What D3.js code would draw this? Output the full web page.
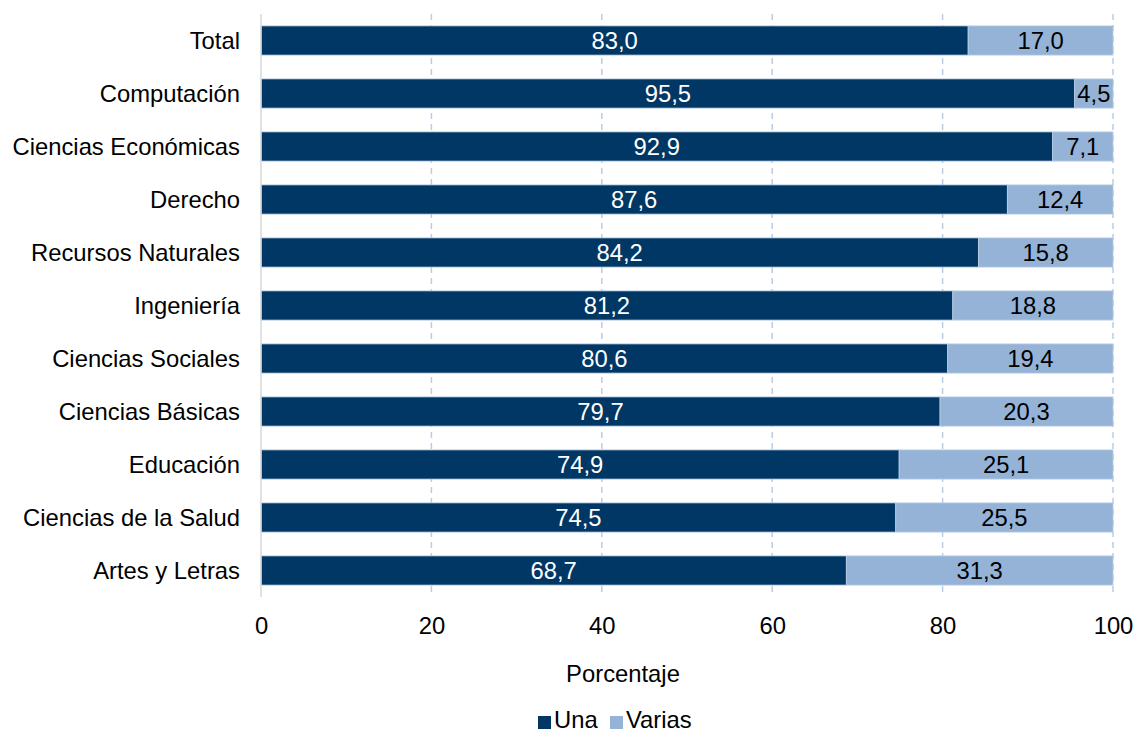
<!DOCTYPE html>
<html><head><meta charset="utf-8">
<script src="https://cdn.jsdelivr.net/npm/d3@7"></script>
<style>body{margin:0;background:#fff}svg{font-family:"Liberation Sans",Arial,sans-serif}</style>
</head><body><svg id="c" width="1134" height="734"></svg>
<script>
const categories = ["Total","Computación","Ciencias Económicas","Derecho","Recursos Naturales","Ingeniería","Ciencias Sociales","Ciencias Básicas","Educación","Ciencias de la Salud","Artes y Letras"];
const una = [83.0,95.5,92.9,87.6,84.2,81.2,80.6,79.7,74.9,74.5,68.7];
const varias = [17.0,4.5,7.1,12.4,15.8,18.8,19.4,20.3,25.1,25.5,31.3];
const ticks = [0,20,40,60,80,100];
const seriesNames = ["Una","Varias"];
const colors = ["#003764","#95B3D7"];

const FS = 23.8;
const FONT = "Liberation Sans, Arial, sans-serif";
const svg = d3.select("#c");
const m = {l:261, r:1113, t:14, b:597};
const x = d3.scaleLinear().domain([0,100]).range([m.l,m.r]);
const y = d3.scaleBand().domain(categories).range([m.t,m.b]).paddingInner(0.45).paddingOuter(0.225);
const fmt = v => v.toFixed(1).replace(".",",");

// gridlines
svg.append("g").selectAll("line").data(ticks.slice(1)).join("line")
  .attr("x1",d=>x(d)).attr("x2",d=>x(d)).attr("y1",m.t).attr("y2",m.b)
  .attr("stroke","#B9CDE5").attr("stroke-width",1.5).attr("stroke-dasharray","6,5");

const data = categories.map((c,i)=>({c, v:[una[i],varias[i]]}));
const g = svg.append("g");
data.forEach(d=>{
  let x0=0;
  d.v.forEach((v,j)=>{
    g.append("rect").attr("x",x(x0)).attr("y",y(d.c)).attr("width",x(x0+v)-x(x0)).attr("height",y.bandwidth())
      .attr("fill",colors[j]).attr("stroke","#B9CDE5").attr("stroke-width",0.8);
    g.append("text").attr("x",(x(x0)+x(x0+v))/2).attr("y",y(d.c)+y.bandwidth()/2).attr("dy","0.36em")
      .attr("text-anchor","middle").attr("font-size",FS).attr("fill",j===0?"#fff":"#000").text(fmt(v));
    x0+=v;
  });
});

// axis line
svg.append("line").attr("x1",m.l).attr("x2",m.l).attr("y1",m.t).attr("y2",m.b).attr("stroke","#D9D9D9").attr("stroke-width",1.5);

// y labels
const ya = svg.append("g").attr("transform",`translate(${m.l-21},0)`)
  .call(d3.axisLeft(y).tickSize(0).tickPadding(0));
ya.select(".domain").remove();
ya.selectAll("text").attr("font-size",FS).attr("fill","#000").attr("font-family",FONT).attr("dy","0.36em");

// x labels
const xa = svg.append("g").attr("transform",`translate(0,${m.b})`)
  .call(d3.axisBottom(x).tickValues(ticks).tickSize(0).tickPadding(0));
xa.select(".domain").remove();
xa.selectAll("text").attr("font-size",FS).attr("fill","#000").attr("font-family",FONT).attr("y",37).attr("dy",0);

svg.append("text").attr("x",623).attr("y",682).attr("text-anchor","middle").attr("font-size",FS).attr("font-family",FONT).text("Porcentaje");

// legend
const lg = svg.append("g");
const lx = [538,610];
seriesNames.forEach((n,i)=>{
  lg.append("rect").attr("x",lx[i]).attr("y",716).attr("width",13).attr("height",13).attr("fill",colors[i]);
  lg.append("text").attr("x",lx[i]+16).attr("y",728).attr("font-size",FS).attr("font-family",FONT).text(n);
});
</script></body></html>
